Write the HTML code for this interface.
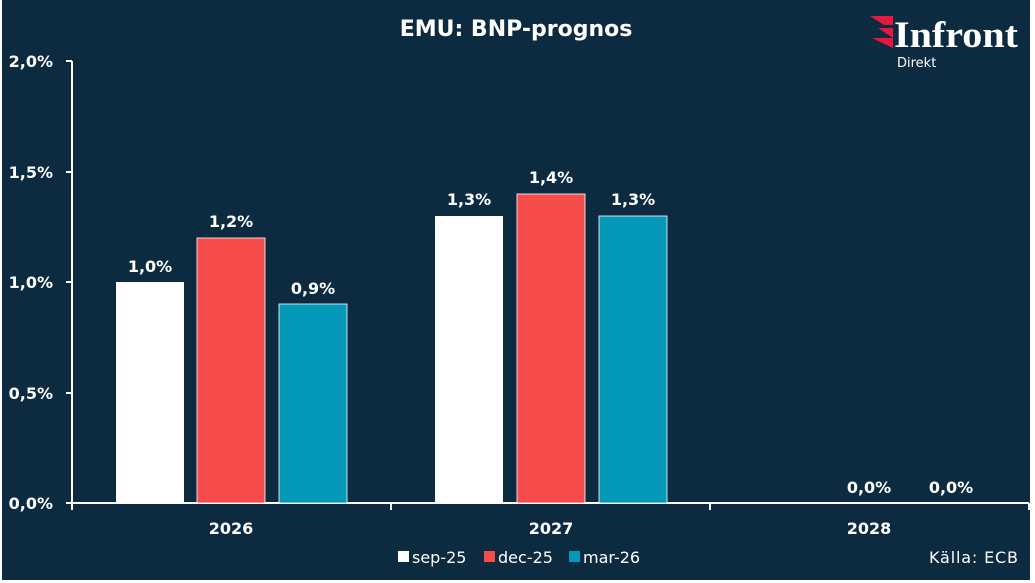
<!DOCTYPE html>
<html><head><meta charset="utf-8"><style>
body{margin:0;background:#fff;}
svg{display:block;font-family:"DejaVu Sans","Liberation Sans",sans-serif;}
</style></head><body>
<svg width="1035" height="583" viewBox="0 0 1035 583">
<rect x="0" y="0" width="1035" height="583" fill="#fff"/>
<rect x="2" y="0" width="1028" height="580" fill="#0c2b40"/>
<text x="516" y="36" fill="#fff" font-size="22" font-weight="bold" text-anchor="middle">EMU: BNP-prognos</text>
<polygon points="870,16 893,16 893,25 884,25" fill="#e8173f"/>
<polygon points="878,28 893,28 893,38" fill="#e8173f"/>
<polygon points="872,38 893,38 893,48" fill="#e8173f"/>
<text x="894" y="47" fill="#fff" font-size="37" font-weight="bold" font-family="Liberation Serif,serif" textLength="124" lengthAdjust="spacingAndGlyphs">Infront</text>
<text x="897" y="67" fill="#fff" font-size="13">Direkt</text>
<g stroke="#fff" stroke-width="2">
<line x1="72" y1="61" x2="72" y2="504"/>
<line x1="71" y1="503" x2="1029" y2="503"/>
<line x1="66" y1="61" x2="72" y2="61"/><line x1="66" y1="172" x2="72" y2="172"/><line x1="66" y1="282" x2="72" y2="282"/><line x1="66" y1="393" x2="72" y2="393"/><line x1="66" y1="503" x2="72" y2="503"/>
<line x1="72" y1="503" x2="72" y2="510"/><line x1="391" y1="503" x2="391" y2="510"/><line x1="710" y1="503" x2="710" y2="510"/><line x1="1029" y1="503" x2="1029" y2="510"/>
</g>
<g fill="#fff" font-size="16" font-weight="bold" text-anchor="end">
<text x="53" y="67">2,0%</text><text x="53" y="178">1,5%</text><text x="53" y="288">1,0%</text><text x="53" y="399">0,5%</text><text x="53" y="509">0,0%</text>
</g>
<rect x="116" y="282" width="68" height="221" fill="#fff"/>
<rect x="197" y="238" width="68" height="265" fill="#f64c4c" stroke="#fff" stroke-width="0.8"/>
<rect x="279" y="304" width="68" height="199" fill="#0499b8" stroke="#fff" stroke-width="0.8"/>
<rect x="435" y="216" width="68" height="287" fill="#fff"/>
<rect x="517" y="194" width="68" height="309" fill="#f64c4c" stroke="#fff" stroke-width="0.8"/>
<rect x="599" y="216" width="68" height="287" fill="#0499b8" stroke="#fff" stroke-width="0.8"/>
<g fill="#fff" font-size="16" font-weight="bold" text-anchor="middle">
<text x="150" y="272">1,0%</text><text x="231" y="227">1,2%</text><text x="313" y="294">0,9%</text>
<text x="469" y="205">1,3%</text><text x="551" y="183">1,4%</text><text x="633" y="205">1,3%</text>
<text x="869" y="493">0,0%</text><text x="951" y="493">0,0%</text>
<text x="231" y="534">2026</text><text x="551" y="534">2027</text><text x="869" y="534">2028</text>
</g>
<g font-size="16" fill="#fff">
<rect x="398" y="551" width="11" height="11" fill="#fff"/><text x="412" y="563">sep-25</text>
<rect x="484" y="551" width="11" height="11" fill="#f64c4c"/><text x="498" y="563">dec-25</text>
<rect x="569" y="551" width="11" height="11" fill="#0499b8"/><text x="583" y="563">mar-26</text>
<text x="929" y="563" font-size="16" textLength="89" lengthAdjust="spacing">Källa:  ECB</text>
</g>
</svg>
</body></html>
